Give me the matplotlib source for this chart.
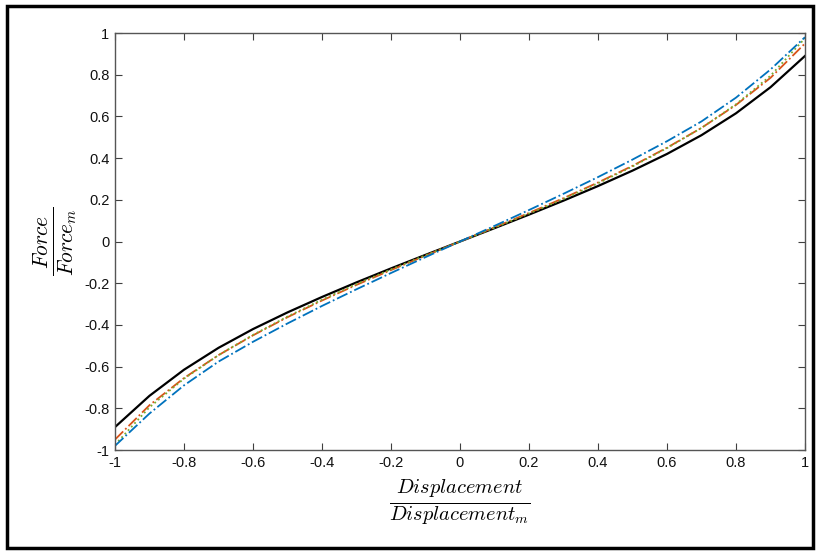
import numpy as np
import matplotlib.pyplot as plt
from matplotlib.patches import Rectangle

plt.rcParams['mathtext.fontset'] = 'cm'
plt.rcParams['font.family'] = 'Liberation Sans'

# for x >= 0, curves are odd
x_pos = [0.0, 0.1, 0.2, 0.3, 0.4, 0.5, 0.6, 0.7, 0.8, 0.9, 1.0]
black = [0.0, 0.064, 0.129, 0.196, 0.266, 0.34, 0.42, 0.51, 0.615, 0.74, 0.89]
orange = [0.0, 0.068, 0.137, 0.208, 0.283, 0.363, 0.45, 0.545, 0.655, 0.785, 0.95]
green = [0.0, 0.066, 0.134, 0.204, 0.279, 0.36, 0.448, 0.545, 0.658, 0.795, 0.975]
blue = [0.0, 0.075, 0.151, 0.229, 0.309, 0.393, 0.481, 0.576, 0.69, 0.825, 0.98]

ticks = [-1, -0.8, -0.6, -0.4, -0.2, 0, 0.2, 0.4, 0.6, 0.8, 1]
tick_labels = ['-1', '-0.8', '-0.6', '-0.4', '-0.2', '0', '0.2', '0.4', '0.6', '0.8', '1']


def mirror(xs, ys):
    xs = np.asarray(xs)
    ys = np.asarray(ys)
    return np.concatenate([-xs[:0:-1], xs]), np.concatenate([-ys[:0:-1], ys])


fig = plt.figure(figsize=(8.19, 5.54), dpi=100)
ax = fig.add_axes([0.1404, 0.1877, 0.8425, 0.7527])

xx, yy = mirror(x_pos, black)
ax.plot(xx, yy, color='black', lw=1.6, ls='-')
xx, yy = mirror(x_pos, orange)
ax.plot(xx, yy, color='#D95319', lw=1.3, ls='-.')
xx, yy = mirror(x_pos, green)
ax.plot(xx, yy, color='#77AC30', lw=1.3, ls=':')
xx, yy = mirror(x_pos, blue)
ax.plot(xx, yy, color='#0072BD', lw=1.3, ls='-.')

ax.set_xlim(-1, 1)
ax.set_ylim(-1, 1)
ax.set_xticks(ticks)
ax.set_xticklabels(tick_labels)
ax.set_yticks(ticks)
ax.set_yticklabels(tick_labels)
ax.tick_params(direction='in', top=True, right=True, length=5, width=0.8,
               colors='#404040', labelcolor='#111111', labelsize=10.5, pad=4)
for s in ax.spines.values():
    s.set_color('#555555')
    s.set_linewidth(1.0)

ax.set_xlabel(r'$\frac{Displacement}{Displacement_m}$', fontsize=21, labelpad=6)
ax.set_ylabel(r'$\frac{Force}{Force_m}$', fontsize=22, labelpad=4)

# outer frame round the whole picture
fig.patches.append(Rectangle((0.009, 0.011), 0.984, 0.979, transform=fig.transFigure,
                             fill=False, edgecolor='black', lw=2.5))

fig.savefig('out.png', dpi=100)
